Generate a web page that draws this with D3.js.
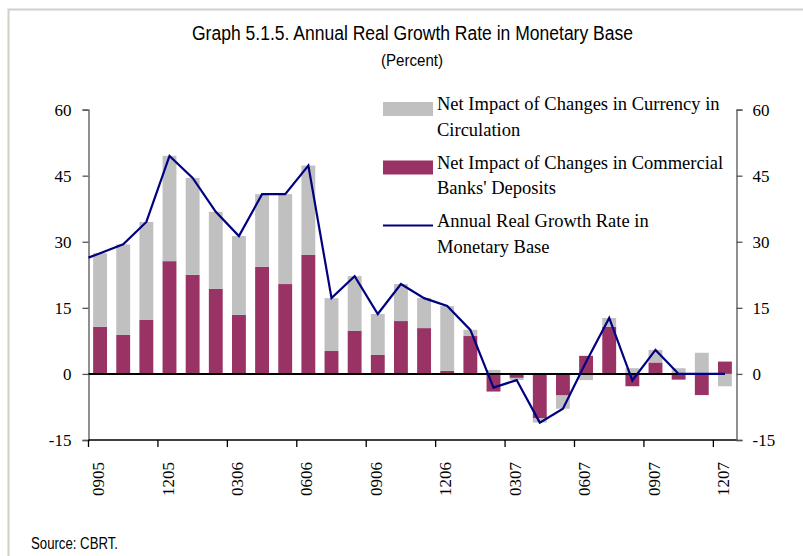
<!DOCTYPE html>
<html>
<head>
<meta charset="utf-8">
<script src="https://cdn.jsdelivr.net/npm/d3@7/dist/d3.min.js"></script>
<style>
  html, body { margin: 0; padding: 0; background: #fff; }
  svg { display: block; }
</style>
</head>
<body>
<svg id="chart" width="803" height="556"></svg>
<script>
// Monthly observations, September 2005 – December 2007 (MMYY)
const months = [
  "0905","1005","1105","1205","0106","0206","0306","0406","0506","0606",
  "0706","0806","0906","1006","1106","1206","0107","0207","0307","0407",
  "0507","0607","0707","0807","0907","1007","1107","1207"
];
// Net impact of changes in commercial banks' deposits (pp)
const bankDeposits = [
  10.7, 8.85, 12.25, 25.6, 22.5, 19.3, 13.4, 24.3, 20.4, 27.0,
  5.2, 9.75, 4.3, 12.0, 10.4, 0.7, 8.6, -4.0, -0.9, -10.1,
  -4.9, 4.1, 10.7, -2.8, 2.6, -1.3, -4.8, 2.8
];
// Net impact of changes in currency in circulation (pp)
const currency = [
  16.7, 20.55, 22.25, 23.9, 22.0, 17.5, 17.9, 16.5, 20.4, 20.3,
  12.0, 12.45, 9.3, 8.4, 6.8, 14.7, 1.4, 0.9, -0.5, -0.95,
  -3.0, -1.4, 2.0, 1.3, 2.85, 1.3, 4.8, -2.8
];
// Annual real growth rate in monetary base (%)
const growthRate = [
  27.4, 29.4, 34.5, 49.5, 44.5, 36.8, 31.3, 40.8, 40.8, 47.3,
  17.2, 22.2, 13.6, 20.4, 17.2, 15.4, 10.0, -3.1, -1.4, -11.05,
  -7.9, 2.7, 12.7, -1.5, 5.45, 0, 0, 0
];
// Value of the growth-rate line where it enters at the left edge of the plot
const growthRateLead = 26.4;

const labelMonths = ["0905","1205","0306","0606","0906","1206","0307","0607","0907","1207"];
const yTicks = [-15, 0, 15, 30, 45, 60];

const seriesKeys = ["deposits", "currency"];
const seriesColor = { deposits: "#993366", currency: "#c0c0c0" };
const lineColor = "#000080";

const svg = d3.select("#chart");
const serif = "'Liberation Serif', 'Times New Roman', serif";
const narrow = "'Liberation Sans Narrow', 'Arial Narrow', 'Liberation Sans', sans-serif";

// outer frame
svg.append("rect")
  .attr("x", 8.5).attr("y", 9.5).attr("width", 1000).attr("height", 1000)
  .attr("fill", "none").attr("stroke", "#d4d0c8").attr("stroke-width", 2);

// titles (condensed to the narrow face width)
svg.append("text").attr("x", 192).attr("y", 40)
  .attr("font-family", narrow).attr("font-size", 20)
  .attr("textLength", 441).attr("lengthAdjust", "spacingAndGlyphs")
  .attr("fill", "#000")
  .text("Graph 5.1.5. Annual Real Growth Rate in Monetary Base");
svg.append("text").attr("x", 381).attr("y", 66)
  .attr("font-family", narrow).attr("font-size", 16)
  .attr("textLength", 62).attr("lengthAdjust", "spacingAndGlyphs")
  .attr("fill", "#000")
  .text("(Percent)");

const plot = { left: 88.5, right: 736.5, top: 109.6, bottom: 440 };

const x = d3.scaleBand().domain(months)
  .range([plot.left, plot.right])
  .paddingInner(0.4).paddingOuter(0.2);
const y = d3.scaleLinear().domain([-15, 60]).range([plot.bottom, plot.top]);

const rows = months.map((m, i) => ({ month: m, deposits: bankDeposits[i], currency: currency[i] }));
const stacked = d3.stack().keys(seriesKeys).offset(d3.stackOffsetDiverging)(rows);

// bars
svg.append("g").selectAll("g").data(stacked).join("g")
  .attr("fill", s => seriesColor[s.key])
  .selectAll("rect").data(s => s).join("rect")
  .attr("x", d => x(d.data.month))
  .attr("width", x.bandwidth())
  .attr("y", d => y(Math.max(d[0], d[1])))
  .attr("height", d => Math.abs(y(d[0]) - y(d[1])));

// left axis
const fmt = d => String(d);
const leftAxis = svg.append("g").attr("transform", `translate(${plot.left},0)`)
  .call(d3.axisLeft(y).tickValues(yTicks).tickSize(6).tickPadding(11).tickFormat(fmt));
// right axis
const rightAxis = svg.append("g").attr("transform", `translate(${plot.right},0)`)
  .call(d3.axisRight(y).tickValues(yTicks).tickSize(6).tickPadding(10).tickFormat(fmt));
[leftAxis, rightAxis].forEach(g => {
  g.select(".domain").attr("stroke", "#555").attr("stroke-width", 1.3);
  g.selectAll(".tick line").attr("stroke", "#555").attr("stroke-width", 1.3);
  g.selectAll(".tick text").attr("font-family", serif).attr("font-size", 17).attr("fill", "#000");
});

// bottom category axis at -15
const step = x.step();
const edge = m => x(m) - (step - x.bandwidth()) / 2;
const bottomG = svg.append("g");
bottomG.append("line")
  .attr("x1", plot.left).attr("x2", plot.right)
  .attr("y1", y(-15)).attr("y2", y(-15))
  .attr("stroke", "#000").attr("stroke-width", 1.3);
bottomG.selectAll("line.tk").data(labelMonths).join("line").attr("class", "tk")
  .attr("x1", d => edge(d)).attr("x2", d => edge(d))
  .attr("y1", y(-15)).attr("y2", y(-15) + 7)
  .attr("stroke", "#000").attr("stroke-width", 1.3);
bottomG.selectAll("text").data(labelMonths).join("text")
  .attr("transform", d => `translate(${x(d) + x.bandwidth() / 2 + 4},${y(-15) + 22}) rotate(-90)`)
  .attr("text-anchor", "end")
  .attr("font-family", serif).attr("font-size", 17).attr("fill", "#000")
  .text(d => d);

// zero line
svg.append("line")
  .attr("x1", plot.left).attr("x2", x(months[months.length - 1]) + x.bandwidth() / 2)
  .attr("y1", y(0)).attr("y2", y(0))
  .attr("stroke", "#000").attr("stroke-width", 2);

// growth rate line
const linePts = [[plot.left, y(growthRateLead)]].concat(
  months.map((m, i) => [x(m) + x.bandwidth() / 2, y(growthRate[i])]));
svg.append("path")
  .attr("d", d3.line()(linePts))
  .attr("fill", "none").attr("stroke", lineColor).attr("stroke-width", 2.2)
  .attr("stroke-linejoin", "miter");

// legend
const legend = [
  { type: "rect", color: seriesColor.currency, lines: ["Net Impact of Changes in Currency in", "Circulation"] },
  { type: "rect", color: seriesColor.deposits, lines: ["Net Impact of Changes in Commercial", "Banks' Deposits"] },
  { type: "line", color: lineColor, lines: ["Annual Real Growth Rate in", "Monetary Base"] }
];
const lg = svg.append("g").attr("transform", "translate(383,110)");
legend.forEach((item, i) => {
  const g = lg.append("g").attr("transform", `translate(0,${i * 58.5})`);
  if (item.type === "rect") {
    g.append("rect").attr("x", 0).attr("y", -8).attr("width", 50).attr("height", 14).attr("fill", item.color);
  } else {
    g.append("line").attr("x1", 0).attr("x2", 50).attr("y1", -1.5).attr("y2", -1.5)
      .attr("stroke", item.color).attr("stroke-width", 2);
  }
  const t = g.append("text").attr("font-family", serif).attr("font-size", 18.5).attr("fill", "#000");
  item.lines.forEach((ln, j) => {
    t.append("tspan").attr("x", 54).attr("y", j * 25.5).text(ln);
  });
});

// source note
svg.append("text").attr("x", 31).attr("y", 549)
  .attr("font-family", narrow).attr("font-size", 16)
  .attr("textLength", 87).attr("lengthAdjust", "spacingAndGlyphs")
  .attr("fill", "#000")
  .text("Source: CBRT.");
</script>
</body>
</html>
